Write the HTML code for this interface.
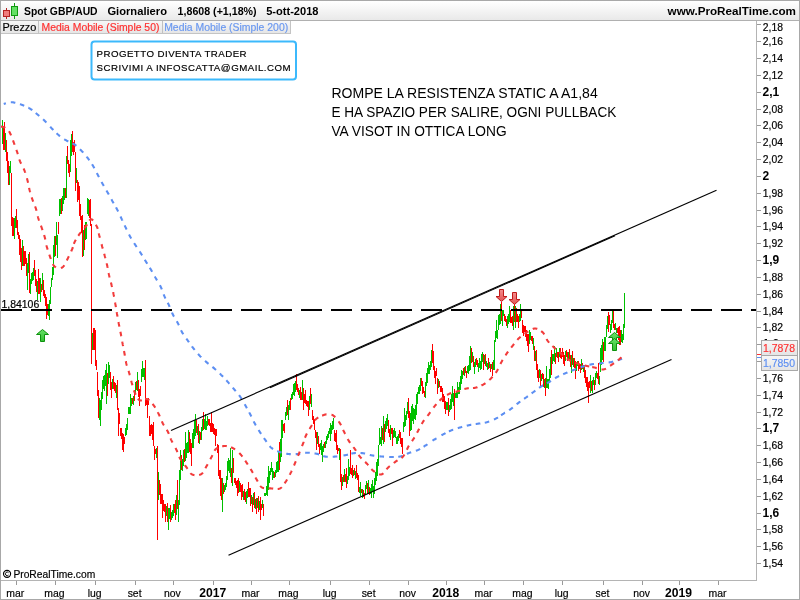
<!DOCTYPE html>
<html><head><meta charset="utf-8"><title>Spot GBP/AUD</title><style>html,body{margin:0;padding:0;background:#fff;overflow:hidden}svg{display:block;will-change:transform}text{font-family:"Liberation Sans",sans-serif}</style></head><body>
<svg width="800" height="600" viewBox="0 0 800 600" font-family="Liberation Sans, sans-serif">
<defs><linearGradient id="tb" x1="0" y1="0" x2="0" y2="1"><stop offset="0" stop-color="#ffffff"/><stop offset="1" stop-color="#e9e9e9"/></linearGradient><linearGradient id="lg" x1="0" y1="0" x2="0" y2="1"><stop offset="0" stop-color="#f7f7f7"/><stop offset="1" stop-color="#e4e4e4"/></linearGradient><linearGradient id="ga" x1="0" y1="0" x2="0" y2="1"><stop offset="0" stop-color="#66e066"/><stop offset="1" stop-color="#33c033"/></linearGradient><linearGradient id="ra" x1="0" y1="0" x2="0" y2="1"><stop offset="0" stop-color="#f58c8c"/><stop offset="1" stop-color="#e25454"/></linearGradient></defs>
<rect x="0" y="0" width="800" height="600" fill="#fff"/>
<path d="M2 120h1v24h-1zM5 133h1v19h-1zM9 166h1v19h-1zM10 161h1v12h-1zM14 218h1v21h-1zM15 216h1v12h-1zM22 240h1v26h-1zM27 263h1v27h-1zM28 254h1v19h-1zM30 279h1v15h-1zM31 273h1v11h-1zM32 272h1v9h-1zM33 268h1v12h-1zM37 281h1v19h-1zM40 278h1v24h-1zM42 273h1v17h-1zM48 304h1v12h-1zM49 300h1v20h-1zM50 287h1v17h-1zM51 278h1v9h-1zM52 267h1v13h-1zM53 245h1v30h-1zM54 236h1v21h-1zM56 222h1v23h-1zM57 235h1v23h-1zM59 199h1v17h-1zM60 199h1v15h-1zM62 196h1v15h-1zM63 188h1v16h-1zM64 188h1v12h-1zM66 156h1v42h-1zM70 140h1v32h-1zM71 134h1v22h-1zM76 168h1v15h-1zM83 230h1v26h-1zM85 222h1v18h-1zM86 222h1v17h-1zM87 198h1v16h-1zM88 199h1v17h-1zM92 333h1v17h-1zM99 398h1v22h-1zM100 400h1v26h-1zM101 392h1v18h-1zM102 380h1v19h-1zM103 376h1v13h-1zM104 375h1v16h-1zM105 370h1v16h-1zM106 364h1v40h-1zM108 362h1v22h-1zM109 365h1v13h-1zM112 379h1v10h-1zM116 385h1v13h-1zM125 428h1v8h-1zM126 424h1v11h-1zM127 418h1v12h-1zM128 407h1v7h-1zM129 407h1v7h-1zM130 394h1v20h-1zM131 398h1v8h-1zM133 396h1v9h-1zM135 382h1v12h-1zM137 372h1v19h-1zM141 369h1v13h-1zM142 361h1v16h-1zM143 368h1v9h-1zM144 368h1v12h-1zM156 448h1v10h-1zM158 472h1v28h-1zM166 506h1v10h-1zM168 508h1v22h-1zM169 508h1v11h-1zM171 512h1v8h-1zM172 510h1v8h-1zM173 504h1v12h-1zM176 495h1v20h-1zM178 500h1v22h-1zM179 470h1v35h-1zM180 450h1v30h-1zM182 459h1v12h-1zM183 450h1v16h-1zM185 432h1v29h-1zM186 443h1v15h-1zM187 442h1v11h-1zM188 430h1v23h-1zM192 433h1v15h-1zM193 429h1v19h-1zM194 420h1v19h-1zM195 414h1v22h-1zM197 426h1v9h-1zM199 431h1v13h-1zM201 427h1v13h-1zM202 419h1v12h-1zM204 419h1v10h-1zM205 414h1v16h-1zM206 421h1v9h-1zM207 416h1v10h-1zM222 478h1v34h-1zM224 485h1v7h-1zM225 483h1v7h-1zM226 476h1v11h-1zM227 461h1v19h-1zM228 458h1v13h-1zM229 460h1v13h-1zM230 448h1v29h-1zM232 450h1v36h-1zM239 481h1v11h-1zM243 491h1v9h-1zM246 491h1v13h-1zM247 489h1v9h-1zM251 495h1v9h-1zM253 493h1v12h-1zM255 499h1v10h-1zM257 498h1v10h-1zM259 501h1v9h-1zM262 500h1v8h-1zM264 493h1v3h-1zM265 493h1v3h-1zM266 486h1v9h-1zM267 477h1v19h-1zM268 466h1v24h-1zM269 471h1v12h-1zM270 468h1v7h-1zM271 462h1v10h-1zM272 468h1v12h-1zM273 471h1v7h-1zM275 470h1v7h-1zM276 462h1v11h-1zM277 461h1v11h-1zM278 452h1v20h-1zM280 439h1v23h-1zM281 420h1v37h-1zM282 420h1v18h-1zM285 412h1v8h-1zM286 407h1v9h-1zM288 405h1v15h-1zM289 401h1v9h-1zM291 394h1v6h-1zM292 392h1v7h-1zM293 384h1v11h-1zM294 383h1v13h-1zM295 381h1v11h-1zM299 390h1v8h-1zM302 380h1v20h-1zM309 396h1v14h-1zM311 394h1v13h-1zM317 432h1v12h-1zM320 443h1v7h-1zM321 440h1v15h-1zM322 446h1v16h-1zM323 444h1v8h-1zM325 441h1v7h-1zM326 436h1v8h-1zM327 434h1v6h-1zM328 431h1v7h-1zM329 428h1v6h-1zM330 423h1v18h-1zM331 425h1v9h-1zM332 421h1v9h-1zM333 418h1v11h-1zM339 448h1v12h-1zM342 477h1v9h-1zM344 469h1v13h-1zM347 476h1v8h-1zM348 459h1v21h-1zM349 467h1v9h-1zM353 470h1v6h-1zM355 471h1v8h-1zM359 487h1v6h-1zM360 482h1v14h-1zM362 489h1v9h-1zM365 485h1v10h-1zM366 481h1v8h-1zM368 480h1v14h-1zM370 488h1v6h-1zM371 484h1v14h-1zM372 480h1v11h-1zM373 486h1v12h-1zM374 478h1v16h-1zM375 472h1v13h-1zM376 462h1v19h-1zM377 459h1v17h-1zM378 445h1v21h-1zM379 428h1v17h-1zM380 437h1v7h-1zM381 426h1v20h-1zM383 416h1v28h-1zM385 421h1v11h-1zM386 418h1v11h-1zM387 414h1v12h-1zM390 425h1v15h-1zM393 430h1v8h-1zM394 428h1v9h-1zM395 431h1v7h-1zM396 437h1v7h-1zM397 436h1v8h-1zM398 434h1v7h-1zM403 422h1v10h-1zM404 408h1v19h-1zM405 415h1v11h-1zM406 411h1v9h-1zM407 402h1v12h-1zM410 413h1v18h-1zM411 406h1v24h-1zM412 404h1v17h-1zM413 408h1v16h-1zM414 409h1v10h-1zM415 405h1v15h-1zM416 394h1v21h-1zM417 392h1v12h-1zM418 387h1v7h-1zM419 385h1v9h-1zM420 378h1v13h-1zM425 382h1v16h-1zM426 373h1v13h-1zM427 368h1v15h-1zM428 362h1v12h-1zM429 365h1v9h-1zM430 361h1v9h-1zM431 350h1v17h-1zM438 379h1v9h-1zM446 402h1v8h-1zM447 402h1v8h-1zM449 405h1v7h-1zM450 399h1v11h-1zM451 394h1v15h-1zM452 386h1v16h-1zM453 393h1v13h-1zM455 393h1v5h-1zM456 392h1v6h-1zM457 382h1v16h-1zM458 387h1v7h-1zM459 382h1v12h-1zM460 376h1v14h-1zM461 370h1v14h-1zM462 371h1v8h-1zM464 367h1v9h-1zM467 366h1v7h-1zM468 365h1v9h-1zM469 356h1v15h-1zM470 346h1v24h-1zM472 352h1v10h-1zM474 362h1v12h-1zM475 359h1v8h-1zM478 363h1v9h-1zM479 358h1v10h-1zM480 361h1v9h-1zM481 354h1v15h-1zM482 352h1v10h-1zM484 355h1v9h-1zM486 361h1v6h-1zM487 363h1v7h-1zM489 362h1v6h-1zM491 364h1v5h-1zM493 360h1v10h-1zM494 340h1v30h-1zM495 331h1v11h-1zM496 320h1v18h-1zM497 330h1v9h-1zM498 315h1v15h-1zM499 314h1v11h-1zM500 304h1v20h-1zM502 310h1v16h-1zM503 310h1v6h-1zM507 316h1v12h-1zM508 314h1v10h-1zM509 306h1v16h-1zM513 306h1v24h-1zM515 306h1v22h-1zM519 314h1v8h-1zM520 304h1v17h-1zM529 330h1v14h-1zM530 332h1v8h-1zM533 338h1v12h-1zM535 351h1v10h-1zM539 369h1v9h-1zM541 374h1v7h-1zM544 379h1v9h-1zM546 366h1v22h-1zM547 379h1v9h-1zM548 379h1v10h-1zM549 369h1v14h-1zM550 357h1v21h-1zM552 354h1v10h-1zM553 354h1v7h-1zM554 346h1v16h-1zM556 348h1v9h-1zM559 348h1v9h-1zM565 351h1v10h-1zM568 352h1v7h-1zM571 355h1v18h-1zM573 358h1v9h-1zM576 362h1v9h-1zM577 361h1v5h-1zM581 359h1v11h-1zM583 365h1v7h-1zM590 375h1v18h-1zM592 380h1v13h-1zM593 377h1v8h-1zM595 373h1v12h-1zM596 371h1v7h-1zM599 376h1v9h-1zM600 348h1v24h-1zM601 345h1v20h-1zM602 339h1v21h-1zM604 337h1v14h-1zM605 337h1v14h-1zM606 325h1v12h-1zM607 316h1v13h-1zM610 324h1v9h-1zM611 320h1v10h-1zM612 311h1v12h-1zM615 323h1v7h-1zM616 328h1v5h-1zM621 330h1v12h-1zM622 334h1v9h-1zM623 324h1v16h-1zM624 293h1v35h-1z" fill="#00c000"/>
<path d="M3 126h1v24h-1zM4 122h1v28h-1zM6 140h1v21h-1zM7 152h1v21h-1zM8 161h1v24h-1zM11 173h1v53h-1zM12 217h1v19h-1zM13 218h1v18h-1zM16 209h1v19h-1zM17 220h1v15h-1zM18 232h1v7h-1zM19 235h1v20h-1zM20 239h1v23h-1zM21 248h1v22h-1zM23 246h1v20h-1zM24 251h1v15h-1zM25 251h1v13h-1zM26 258h1v18h-1zM29 252h1v41h-1zM34 260h1v16h-1zM35 270h1v16h-1zM36 279h1v13h-1zM38 269h1v25h-1zM39 278h1v16h-1zM41 284h1v8h-1zM43 280h1v16h-1zM44 290h1v8h-1zM45 294h1v12h-1zM46 297h1v22h-1zM47 304h1v11h-1zM55 236h1v20h-1zM58 222h1v12h-1zM61 198h1v16h-1zM65 188h1v10h-1zM67 146h1v18h-1zM68 160h1v13h-1zM69 164h1v13h-1zM72 131h1v21h-1zM73 142h1v13h-1zM74 140h1v12h-1zM75 152h1v39h-1zM77 180h1v22h-1zM78 182h1v18h-1zM79 186h1v30h-1zM80 204h1v16h-1zM81 216h1v17h-1zM82 215h1v42h-1zM84 225h1v25h-1zM89 200h1v18h-1zM90 199h1v27h-1zM91 224h1v140h-1zM93 328h1v22h-1zM94 328h1v22h-1zM95 330h1v36h-1zM96 360h1v10h-1zM97 372h1v24h-1zM98 390h1v28h-1zM107 373h1v23h-1zM110 372h1v18h-1zM111 382h1v16h-1zM113 376h1v13h-1zM114 382h1v9h-1zM115 383h1v10h-1zM117 380h1v30h-1zM118 408h1v28h-1zM119 413h1v11h-1zM120 428h1v8h-1zM121 428h1v11h-1zM122 433h1v17h-1zM123 434h1v18h-1zM124 437h1v7h-1zM132 398h1v6h-1zM134 390h1v11h-1zM136 381h1v9h-1zM138 380h1v17h-1zM139 389h1v17h-1zM140 386h1v10h-1zM145 360h1v46h-1zM146 398h1v7h-1zM147 400h1v18h-1zM148 398h1v7h-1zM149 416h1v20h-1zM150 425h1v11h-1zM151 424h1v10h-1zM152 425h1v15h-1zM153 422h1v24h-1zM154 446h1v14h-1zM155 449h1v5h-1zM157 446h1v94h-1zM159 480h1v15h-1zM160 484h1v20h-1zM161 494h1v10h-1zM162 494h1v24h-1zM163 500h1v11h-1zM164 504h1v8h-1zM165 504h1v18h-1zM167 503h1v19h-1zM170 505h1v17h-1zM174 504h1v9h-1zM175 500h1v20h-1zM177 480h1v29h-1zM181 455h1v15h-1zM184 449h1v13h-1zM189 432h1v20h-1zM190 439h1v15h-1zM191 443h1v23h-1zM196 420h1v13h-1zM198 424h1v19h-1zM200 432h1v8h-1zM203 412h1v18h-1zM208 419h1v6h-1zM209 419h1v7h-1zM210 423h1v9h-1zM211 412h1v20h-1zM212 423h1v9h-1zM213 424h1v10h-1zM214 428h1v7h-1zM215 429h1v17h-1zM216 429h1v7h-1zM217 444h1v9h-1zM218 445h1v31h-1zM219 470h1v9h-1zM220 470h1v26h-1zM221 478h1v22h-1zM223 483h1v11h-1zM231 468h1v15h-1zM233 458h1v15h-1zM234 478h1v5h-1zM235 478h1v7h-1zM236 481h1v7h-1zM237 480h1v16h-1zM238 478h1v15h-1zM240 483h1v9h-1zM241 485h1v15h-1zM242 484h1v13h-1zM244 489h1v11h-1zM245 492h1v10h-1zM248 482h1v15h-1zM249 488h1v9h-1zM250 488h1v18h-1zM252 497h1v15h-1zM254 492h1v16h-1zM256 498h1v16h-1zM258 496h1v16h-1zM260 497h1v23h-1zM261 504h1v6h-1zM263 504h1v12h-1zM274 472h1v6h-1zM279 442h1v28h-1zM283 424h1v7h-1zM284 423h1v10h-1zM287 400h1v15h-1zM290 398h1v12h-1zM296 374h1v16h-1zM297 384h1v8h-1zM298 388h1v7h-1zM300 387h1v13h-1zM301 392h1v8h-1zM303 388h1v22h-1zM304 394h1v9h-1zM305 390h1v14h-1zM306 400h1v6h-1zM307 401h1v6h-1zM308 401h1v15h-1zM310 388h1v16h-1zM312 410h1v10h-1zM313 416h1v8h-1zM314 419h1v11h-1zM315 430h1v8h-1zM316 432h1v18h-1zM318 436h1v11h-1zM319 444h1v10h-1zM324 442h1v6h-1zM334 430h1v11h-1zM335 433h1v9h-1zM336 430h1v20h-1zM337 445h1v9h-1zM338 448h1v3h-1zM340 449h1v33h-1zM341 474h1v16h-1zM343 475h1v7h-1zM345 474h1v8h-1zM346 468h1v20h-1zM350 450h1v24h-1zM351 468h1v7h-1zM352 465h1v13h-1zM354 468h1v7h-1zM356 465h1v13h-1zM357 473h1v7h-1zM358 475h1v17h-1zM361 489h1v4h-1zM363 490h1v7h-1zM364 493h1v6h-1zM367 483h1v11h-1zM369 487h1v8h-1zM382 428h1v12h-1zM384 424h1v18h-1zM388 420h1v13h-1zM389 429h1v8h-1zM391 428h1v6h-1zM392 428h1v18h-1zM399 430h1v8h-1zM400 432h1v12h-1zM401 438h1v9h-1zM402 438h1v16h-1zM408 398h1v20h-1zM409 411h1v25h-1zM421 378h1v8h-1zM422 381h1v13h-1zM423 387h1v6h-1zM424 391h1v6h-1zM432 344h1v19h-1zM433 351h1v19h-1zM434 366h1v12h-1zM435 371h1v13h-1zM436 368h1v8h-1zM437 378h1v16h-1zM439 381h1v6h-1zM440 386h1v6h-1zM441 386h1v6h-1zM442 388h1v14h-1zM443 394h1v8h-1zM444 396h1v13h-1zM445 401h1v13h-1zM448 398h1v18h-1zM454 389h1v31h-1zM463 368h1v7h-1zM465 366h1v7h-1zM466 371h1v7h-1zM471 348h1v15h-1zM473 356h1v11h-1zM476 358h1v7h-1zM477 360h1v7h-1zM483 354h1v16h-1zM485 354h1v12h-1zM488 358h1v11h-1zM490 364h1v8h-1zM492 362h1v14h-1zM501 302h1v19h-1zM504 314h1v7h-1zM505 316h1v6h-1zM506 319h1v7h-1zM510 310h1v13h-1zM511 317h1v6h-1zM512 316h1v10h-1zM514 304h1v18h-1zM516 308h1v14h-1zM517 314h1v8h-1zM518 316h1v12h-1zM521 310h1v8h-1zM522 320h1v13h-1zM523 325h1v11h-1zM524 326h1v6h-1zM525 326h1v11h-1zM526 330h1v11h-1zM527 334h1v12h-1zM528 334h1v18h-1zM531 336h1v5h-1zM532 336h1v8h-1zM534 346h1v15h-1zM536 350h1v20h-1zM537 364h1v14h-1zM538 370h1v12h-1zM540 370h1v16h-1zM542 373h1v6h-1zM543 374h1v13h-1zM545 378h1v18h-1zM551 350h1v25h-1zM555 353h1v11h-1zM557 352h1v6h-1zM558 352h1v10h-1zM560 348h1v10h-1zM561 352h1v7h-1zM562 348h1v9h-1zM563 352h1v12h-1zM564 355h1v11h-1zM566 350h1v7h-1zM567 352h1v9h-1zM569 349h1v10h-1zM570 355h1v12h-1zM572 351h1v14h-1zM574 358h1v10h-1zM575 361h1v18h-1zM578 361h1v10h-1zM579 364h1v5h-1zM580 364h1v9h-1zM582 363h1v6h-1zM584 365h1v13h-1zM585 370h1v13h-1zM586 377h1v10h-1zM587 377h1v14h-1zM588 382h1v21h-1zM589 381h1v7h-1zM591 381h1v10h-1zM594 380h1v10h-1zM597 373h1v6h-1zM598 363h1v21h-1zM603 342h1v20h-1zM608 312h1v20h-1zM609 315h1v10h-1zM613 311h1v17h-1zM614 324h1v6h-1zM617 328h1v5h-1zM618 327h1v13h-1zM619 326h1v19h-1zM620 330h1v15h-1z" fill="#ff0000"/>
<path d="M3.75 104.00 3.85 103.97 3.95 103.93 4.07 103.88 4.20 103.83 4.34 103.78 4.49 103.72 4.65 103.66 4.82 103.59 5.00 103.53 5.18 103.46 5.36 103.39 5.56 103.32 5.75 103.24 5.90 103.19M10.81 102.19 10.86 102.19 11.08 102.18 11.30 102.18 11.53 102.19 11.77 102.20 12.01 102.22 12.27 102.24 12.54 102.27 12.81 102.31 13.10 102.35 13.40 102.40 13.72 102.46 14.04 102.52 14.38 102.60 14.73 102.67 15.09 102.76 15.35 102.82M19.93 104.14 20.20 104.23 20.60 104.36 20.98 104.49 21.36 104.63 21.74 104.76 22.10 104.90 22.46 105.04 22.82 105.18 23.18 105.32 23.54 105.46 23.90 105.61 24.24 105.75M28.41 107.75 28.43 107.75 28.76 107.94 29.09 108.12 29.42 108.31 29.75 108.51 30.08 108.70 30.40 108.90 30.72 109.10 31.03 109.31 31.34 109.52 31.65 109.73 31.95 109.95 32.25 110.17 32.30 110.20M35.75 113.01 36.03 113.25 36.32 113.50 36.61 113.75 36.91 114.00 37.20 114.25 37.50 114.50 37.80 114.75 38.10 115.00 38.41 115.25 38.71 115.51 39.01 115.76 39.27 115.97M43.13 119.32 43.30 119.48 43.60 119.76 43.90 120.04 44.20 120.33 44.50 120.61 44.80 120.90 45.10 121.19 45.39 121.49 45.69 121.79 45.98 122.10 46.28 122.41 46.41 122.55M50.18 126.72 50.34 126.89 50.62 127.20 50.91 127.51 51.19 127.81 51.47 128.11 51.75 128.40 52.03 128.69 52.30 128.97 52.57 129.26 52.84 129.54 53.11 129.82 53.34 130.06M56.53 133.28 56.53 133.28 56.81 133.54 57.09 133.79 57.37 134.05 57.66 134.30 57.95 134.55 58.25 134.80 58.55 135.05 58.86 135.30 59.18 135.55 59.49 135.80 59.81 136.04 60.05 136.23M64.30 139.19 64.54 139.35 64.88 139.56 65.23 139.78 65.57 139.99 65.91 140.20 66.25 140.40 66.59 140.60 66.93 140.79 67.28 140.97 67.62 141.14 67.97 141.31 68.29 141.46M72.51 143.35 72.51 143.35 72.85 143.52 73.19 143.70 73.52 143.89 73.85 144.08 74.18 144.29 74.50 144.50 74.82 144.72 75.13 144.95 75.45 145.18 75.76 145.42 76.07 145.66 76.34 145.88M79.99 149.26 80.19 149.46 80.47 149.74 80.75 150.03 81.04 150.32 81.32 150.61 81.60 150.90 81.88 151.19 82.16 151.49 82.44 151.78 82.72 152.08 83.00 152.38 83.17 152.58M86.59 156.59 86.75 156.80 87.01 157.12 87.26 157.44 87.51 157.76 87.76 158.08 88.00 158.40 88.24 158.71 88.47 159.02 88.69 159.32 88.91 159.61 89.13 159.89 89.33 160.18 89.38 160.24M92.08 164.27 92.24 164.54 92.48 164.94 92.73 165.35 92.98 165.79 93.25 166.25 93.53 166.73 93.81 167.24 94.10 167.78 94.36 168.26M96.86 173.05 96.98 173.30 97.32 173.96 97.66 174.63 98.00 175.29 98.34 175.96 98.68 176.62 98.95 177.14M101.50 181.91 101.64 182.16 101.97 182.75 102.30 183.33 102.64 183.92 102.97 184.51 103.31 185.09 103.65 185.67 103.78 185.90M106.51 190.56 106.58 190.68 106.88 191.19 107.17 191.69 107.46 192.18 107.73 192.66 108.00 193.12 108.25 193.57 108.50 194.00 108.73 194.41 108.81 194.54M111.39 199.28 111.39 199.28 111.54 199.55 111.69 199.82 111.84 200.10 112.00 200.39 112.16 200.68 112.32 200.99 112.50 201.30 112.68 201.62 112.86 201.94 113.05 202.27 113.23 202.59 113.42 202.92 113.61 203.24 113.64 203.30M116.01 207.38 116.14 207.63 116.34 207.98 116.53 208.33 116.72 208.68 116.91 209.04 117.10 209.40 117.29 209.76 117.47 210.13 117.66 210.50 117.85 210.87 118.03 211.25 118.13 211.45M120.52 216.52 120.60 216.69 120.78 217.07 120.96 217.46 121.14 217.84 121.32 218.22 121.50 218.60 121.68 218.98 121.85 219.35 122.03 219.72 122.20 220.09 122.38 220.46 122.48 220.68M124.66 225.37 124.77 225.60 124.94 225.97 125.12 226.34 125.29 226.71 125.47 227.08 125.65 227.45 125.83 227.82 126.01 228.20 126.19 228.57 126.36 228.95 126.54 229.33 126.64 229.53M129.02 234.47 129.11 234.64 129.31 235.02 129.50 235.39 129.70 235.76 129.90 236.13 130.10 236.50 130.30 236.87 130.51 237.23 130.72 237.60 130.93 237.96 131.15 238.33 131.25 238.49M134.16 243.16 134.27 243.34 134.50 243.69 134.72 244.04 134.95 244.40 135.17 244.75 135.40 245.10 135.63 245.45 135.85 245.80 136.08 246.15 136.31 246.50 136.54 246.85 136.66 247.03M139.64 251.47 139.78 251.67 140.00 252.02 140.23 252.36 140.46 252.71 140.68 253.05 140.90 253.40 141.12 253.75 141.34 254.10 141.56 254.44 141.77 254.79 141.99 255.14 142.12 255.35M144.80 259.79 144.95 260.03 145.16 260.38 145.37 260.72 145.58 261.07 145.79 261.41 146.00 261.75 146.21 262.09 146.42 262.43 146.63 262.76 146.84 263.10 147.05 263.43 147.22 263.70M149.80 267.79 149.97 268.05 150.17 268.38 150.38 268.72 150.59 269.06 150.79 269.40 151.00 269.75 151.21 270.10 151.41 270.45 151.62 270.80 151.82 271.15 152.03 271.51 152.16 271.74M154.77 276.40 154.87 276.58 155.08 276.94 155.28 277.31 155.49 277.67 155.69 278.04 155.90 278.40 156.11 278.76 156.32 279.13 156.53 279.49 156.74 279.85 156.96 280.22 157.06 280.39M159.85 285.15 159.95 285.34 160.15 285.71 160.34 286.08 160.53 286.45 160.72 286.83 160.90 287.20 161.08 287.58 161.25 287.96 161.41 288.34 161.57 288.72 161.73 289.10 161.81 289.31M163.63 294.27 163.73 294.53 163.88 294.91 164.03 295.29 164.18 295.66 164.34 296.03 164.50 296.40 164.66 296.76 164.83 297.12 165.00 297.48 165.17 297.83 165.34 298.18 165.49 298.47M167.74 302.73 167.86 302.97 168.04 303.33 168.22 303.69 168.40 304.05 168.57 304.42 168.75 304.80 168.92 305.18 169.10 305.57 169.27 305.97 169.44 306.37 169.61 306.77 169.66 306.91M171.94 312.51 171.98 312.61 172.16 313.02 172.34 313.42 172.52 313.82 172.71 314.21 172.90 314.60 173.09 314.98 173.29 315.36 173.49 315.73 173.69 316.10 173.90 316.47 173.99 316.63M176.78 321.24 176.90 321.44 177.10 321.80 177.31 322.16 177.51 322.52 177.71 322.88 177.90 323.25 178.09 323.62 178.27 323.99 178.45 324.37 178.63 324.75 178.80 325.13 178.89 325.32M181.05 330.25 181.15 330.47 181.33 330.84 181.52 331.21 181.71 331.58 181.90 331.94 182.10 332.30 182.31 332.66 182.52 333.01 182.73 333.36 182.95 333.71 183.17 334.06 183.30 334.26M186.31 338.53 186.47 338.75 186.71 339.08 186.94 339.41 187.18 339.74 187.42 340.07 187.65 340.40 187.88 340.73 188.11 341.06 188.34 341.38 188.57 341.71 188.80 342.03 188.97 342.28M191.85 346.27 192.03 346.52 192.27 346.83 192.51 347.15 192.76 347.47 193.00 347.78 193.25 348.10 193.50 348.42 193.75 348.73 194.00 349.05 194.26 349.37 194.51 349.69 194.68 349.90M198.05 353.90 198.21 354.09 198.49 354.39 198.76 354.70 199.04 355.00 199.32 355.30 199.60 355.60 199.88 355.90 200.17 356.19 200.45 356.49 200.74 356.78 201.03 357.08 201.20 357.25M205.03 360.87 205.22 361.05 205.53 361.32 205.83 361.59 206.14 361.86 206.44 362.13 206.75 362.40 207.06 362.66 207.36 362.93 207.67 363.18 207.98 363.44 208.29 363.69 208.52 363.87M212.48 366.93 212.70 367.11 213.01 367.36 213.32 367.62 213.63 367.87 213.94 368.14 214.25 368.40 214.56 368.67 214.86 368.94 215.17 369.21 215.48 369.49 215.78 369.76 215.97 369.93M219.81 373.58 220.00 373.77 220.30 374.06 220.59 374.34 220.88 374.63 221.16 374.92 221.45 375.20 221.73 375.48 222.01 375.76 222.29 376.05 222.57 376.33 222.84 376.61 223.07 376.83M226.35 380.30 226.58 380.54 226.84 380.83 227.10 381.12 227.37 381.41 227.63 381.71 227.90 382.00 228.17 382.30 228.43 382.60 228.70 382.89 228.97 383.20 229.23 383.50 229.43 383.72M232.77 387.64 232.94 387.83 233.20 388.15 233.47 388.46 233.73 388.77 233.99 389.09 234.25 389.40 234.51 389.71 234.77 390.02 235.03 390.33 235.30 390.64 235.56 390.94 235.74 391.15M239.04 395.14 239.17 395.31 239.42 395.64 239.67 395.97 239.91 396.31 240.16 396.65 240.40 397.00 240.64 397.35 240.88 397.71 241.12 398.08 241.35 398.45 241.59 398.83 241.65 398.93M244.68 404.19 244.75 404.32 244.96 404.71 245.17 405.09 245.38 405.46 245.59 405.83 245.80 406.20 246.00 406.56 246.21 406.92 246.41 407.27 246.60 407.62 246.80 407.96 246.93 408.20M249.23 412.37 249.38 412.66 249.56 413.00 249.75 413.34 249.93 413.69 250.11 414.04 250.30 414.40 250.49 414.76 250.67 415.12 250.85 415.49 251.04 415.86 251.22 416.23 251.33 416.46M253.69 421.36 253.78 421.54 253.97 421.91 254.16 422.29 254.36 422.66 254.55 423.03 254.75 423.40 254.95 423.77 255.15 424.13 255.35 424.50 255.56 424.86 255.76 425.23 255.87 425.41M258.63 430.05 258.76 430.26 258.98 430.61 259.19 430.96 259.41 431.31 259.63 431.66 259.85 432.00 260.07 432.34 260.29 432.68 260.51 433.02 260.73 433.36 260.95 433.69 261.10 433.93M263.91 438.03 264.08 438.27 264.31 438.60 264.54 438.92 264.78 439.25 265.01 439.57 265.25 439.90 265.49 440.23 265.72 440.56 265.96 440.90 266.19 441.25 266.42 441.59 266.56 441.79M269.64 446.06 269.85 446.31 270.12 446.61 270.39 446.90 270.67 447.18 270.96 447.44 271.25 447.70 271.55 447.95 271.85 448.18 272.16 448.41 272.47 448.63 272.79 448.85 273.11 449.05M277.25 451.08 277.60 451.22 277.96 451.36 278.32 451.50 278.68 451.63 279.04 451.77 279.40 451.90 279.76 452.03 280.12 452.16 280.49 452.28 280.86 452.40 281.23 452.51 281.58 452.62M286.22 453.68 286.56 453.74 286.95 453.80 287.34 453.85 287.72 453.91 288.11 453.95 288.50 454.00 288.89 454.04 289.28 454.08 289.67 454.11 290.06 454.14 290.45 454.16 290.79 454.18M295.70 454.14 296.01 454.12 296.41 454.10 296.81 454.08 297.21 454.05 297.60 454.03 298.00 454.00 298.40 453.97 298.79 453.93 299.19 453.88 299.59 453.83 299.98 453.77 300.28 453.73M305.21 452.88 305.53 452.84 305.93 452.79 306.32 452.76 306.72 452.73 307.11 452.71 307.50 452.70 307.89 452.70 308.28 452.70 308.68 452.71 309.07 452.72 309.46 452.74 309.80 452.76M314.54 453.35 314.91 453.42 315.29 453.49 315.67 453.56 316.05 453.64 316.42 453.72 316.80 453.80 317.17 453.89 317.54 453.98 317.91 454.09 318.28 454.20 318.64 454.32 319.00 454.45 319.01 454.45M323.27 456.05 323.28 456.06 323.65 456.17 324.01 456.28 324.38 456.37 324.75 456.46 325.12 456.54 325.50 456.60 325.88 456.65 326.26 456.70 326.64 456.74 327.02 456.78 327.41 456.81 327.79 456.83M332.71 456.76 332.93 456.75 333.34 456.72 333.75 456.69 334.16 456.66 334.58 456.63 335.00 456.60 335.43 456.57 335.86 456.53 336.30 456.49 336.75 456.44 337.21 456.39 337.29 456.38M343.48 455.50 343.68 455.46 344.11 455.39 344.54 455.32 344.95 455.24 345.36 455.17 345.75 455.10 346.13 455.03 346.50 454.95 346.86 454.87 347.21 454.78 347.55 454.70 347.88 454.61 347.99 454.58M351.34 453.62 351.61 453.55 351.93 453.48 352.25 453.41 352.57 453.35 352.91 453.29 353.25 453.24 353.60 453.20 353.96 453.16 354.32 453.13 354.69 453.09 355.06 453.06 355.43 453.04 355.81 453.01 355.89 453.01M360.51 453.00 360.86 453.02 361.25 453.05 361.64 453.08 362.03 453.12 362.42 453.16 362.80 453.20 363.18 453.25 363.56 453.31 363.95 453.38 364.33 453.45 364.71 453.53 365.06 453.62M369.76 454.90 370.05 454.98 370.43 455.07 370.82 455.16 371.21 455.25 371.61 455.33 372.00 455.40 372.40 455.47 372.79 455.53 373.19 455.59 373.59 455.65 374.00 455.71 374.27 455.75M379.46 456.31 379.71 456.33 380.12 456.36 380.53 456.40 380.94 456.43 381.34 456.47 381.75 456.50 382.16 456.53 382.56 456.57 382.97 456.60 383.38 456.63 383.79 456.66 384.04 456.68M389.20 456.97 389.52 456.98 389.92 456.99 390.32 456.99 390.71 457.00 391.11 457.00 391.50 457.00 391.89 457.00 392.28 457.00 392.66 457.00 393.05 457.00 393.43 456.99 393.80 456.99M398.23 456.78 398.30 456.77 398.67 456.73 399.04 456.67 399.40 456.62 399.77 456.55 400.14 456.48 400.50 456.40 400.86 456.31 401.22 456.21 401.58 456.11 401.94 455.99 402.29 455.87 402.65 455.74 402.70 455.72M406.87 453.88 407.21 453.73 407.56 453.58 407.92 453.43 408.28 453.28 408.64 453.14 409.00 453.00 409.37 452.87 409.74 452.74 410.11 452.62 410.49 452.49 410.87 452.37 411.18 452.28M415.86 450.84 416.21 450.72 416.58 450.58 416.94 450.44 417.30 450.30 417.65 450.15 418.00 450.00 418.34 449.84 418.67 449.68 419.00 449.52 419.32 449.35 419.63 449.19 419.95 449.02 420.05 448.96M423.57 446.75 423.87 446.56 424.18 446.35 424.50 446.14 424.83 445.93 425.16 445.72 425.50 445.50 425.85 445.28 426.20 445.05 426.55 444.82 426.91 444.58 427.28 444.34 427.42 444.24M432.57 440.75 432.60 440.73 432.98 440.48 433.36 440.23 433.75 439.98 434.12 439.74 434.50 439.50 434.88 439.26 435.25 439.03 435.64 438.79 436.02 438.56 436.40 438.32 436.46 438.29M441.49 435.32 441.72 435.19 442.09 434.98 442.45 434.78 442.80 434.58 443.15 434.39 443.50 434.20 443.84 434.01 444.17 433.83 444.50 433.66 444.82 433.48 445.13 433.31 445.45 433.15 445.52 433.10M448.89 431.41 449.05 431.34 449.37 431.20 449.68 431.06 450.00 430.92 450.33 430.78 450.66 430.64 451.00 430.50 451.35 430.36 451.70 430.22 452.05 430.09 452.41 429.95 452.78 429.82 453.14 429.68 453.15 429.68M457.80 428.16 458.10 428.07 458.48 427.95 458.86 427.84 459.25 427.72 459.62 427.61 460.00 427.50 460.38 427.39 460.75 427.28 461.12 427.17 461.50 427.07 461.87 426.96 462.21 426.87M466.76 425.70 467.12 425.61 467.50 425.53 467.88 425.44 468.25 425.36 468.63 425.28 469.00 425.20 469.38 425.12 469.75 425.05 470.12 424.97 470.50 424.90 470.88 424.84 471.25 424.77 471.26 424.77M475.73 424.06 475.75 424.06 476.12 424.00 476.50 423.94 476.88 423.88 477.25 423.82 477.63 423.76 478.00 423.70 478.38 423.64 478.75 423.58 479.12 423.53 479.50 423.48 479.87 423.43 480.25 423.38 480.28 423.37M484.76 422.73 485.12 422.66 485.50 422.58 485.88 422.49 486.25 422.40 486.63 422.30 487.00 422.20 487.38 422.09 487.76 421.97 488.14 421.85 488.52 421.72 488.91 421.59 489.19 421.49M493.93 419.51 494.26 419.36 494.62 419.19 494.97 419.02 495.32 418.84 495.66 418.67 496.00 418.50 496.33 418.33 496.65 418.16 496.96 417.98 497.27 417.80 497.57 417.63 497.87 417.45 498.00 417.36M501.09 415.28 501.23 415.19 501.51 414.99 501.80 414.80 502.09 414.60 502.39 414.40 502.69 414.20 503.00 414.00 503.31 413.80 503.63 413.60 503.96 413.39 504.28 413.19 504.61 412.98 504.94 412.78 504.95 412.78M509.10 410.15 509.35 409.99 509.69 409.77 510.02 409.54 510.35 409.31 510.68 409.08 511.00 408.85 511.32 408.62 511.64 408.38 511.96 408.14 512.27 407.89 512.59 407.64 512.83 407.45M516.65 404.28 516.90 404.07 517.21 403.82 517.52 403.57 517.83 403.33 518.14 403.09 518.45 402.85 518.76 402.61 519.08 402.38 519.39 402.15 519.70 401.92 520.02 401.70 520.30 401.49M524.12 398.83 524.43 398.61 524.74 398.39 525.06 398.17 525.37 397.95 525.69 397.73 526.00 397.50 526.31 397.27 526.63 397.05 526.94 396.82 527.25 396.59 527.57 396.36 527.86 396.15M531.64 393.36 531.94 393.14 532.25 392.91 532.56 392.68 532.88 392.46 533.19 392.23 533.50 392.00 533.81 391.77 534.12 391.54 534.43 391.31 534.74 391.08 535.05 390.85 535.35 390.63M539.09 387.88 539.40 387.66 539.72 387.45 540.04 387.23 540.36 387.02 540.68 386.81 541.00 386.60 541.32 386.40 541.65 386.20 541.98 386.00 542.30 385.80 542.63 385.61 542.96 385.42 542.97 385.42M547.00 383.23 547.32 383.05 547.66 382.87 548.00 382.68 548.33 382.49 548.67 382.30 549.00 382.10 549.33 381.90 549.67 381.70 550.00 381.49 550.33 381.28 550.66 381.07 550.95 380.88M555.01 378.26 555.31 378.07 555.65 377.87 555.99 377.67 556.32 377.48 556.66 377.29 557.00 377.10 557.34 376.92 557.68 376.74 558.02 376.56 558.36 376.39 558.71 376.22 559.05 376.06M563.19 374.20 563.21 374.19 563.56 374.04 563.91 373.90 564.26 373.75 564.60 373.60 564.95 373.45 565.30 373.30 565.65 373.15 565.99 373.00 566.34 372.86 566.69 372.71 567.03 372.56 567.38 372.42 567.42 372.40M571.56 370.73 571.91 370.59 572.26 370.46 572.62 370.32 572.98 370.18 573.34 370.04 573.70 369.90 574.06 369.76 574.43 369.62 574.80 369.48 575.17 369.33 575.54 369.19 575.84 369.07M580.52 367.32 580.81 367.22 581.19 367.09 581.57 366.96 581.95 366.84 582.32 366.72 582.70 366.60 583.07 366.48 583.45 366.37 583.82 366.26 584.19 366.14 584.56 366.03 584.90 365.94M589.45 364.76 589.79 364.68 590.17 364.60 590.55 364.52 590.93 364.45 591.31 364.37 591.70 364.30 592.09 364.23 592.48 364.17 592.87 364.11 593.27 364.05 593.66 363.99 593.97 363.95M599.01 363.43 599.29 363.41 599.69 363.37 600.10 363.33 600.50 363.29 600.90 363.24 601.30 363.20 601.70 363.16 602.10 363.11 602.50 363.07 602.91 363.03 603.31 363.00 603.59 362.97M608.63 362.47 608.94 362.43 609.33 362.37 609.73 362.31 610.12 362.24 610.51 362.17 610.90 362.10 611.29 362.02 611.69 361.93 612.09 361.84 612.49 361.74 612.90 361.64 613.14 361.57M617.71 360.20 618.01 360.11 618.36 360.00 618.69 359.89 619.01 359.78 619.32 359.68 619.62 359.59 619.90 359.50 620.17 359.42 620.43 359.33 620.67 359.25 620.91 359.17 621.14 359.09 621.37 359.01 621.58 358.94 621.78 358.86 621.98 358.79 622.08 358.75" fill="none" stroke="#5d8ff2" stroke-width="2.1"/>
<path d="M0.95 126.57 1.04 126.58 1.17 126.59 1.31 126.60 1.45 126.61 1.60 126.63 1.74 126.64 1.89 126.66 2.03 126.68 2.18 126.71 2.32 126.73 2.47 126.76 2.60 126.79 2.74 126.82 2.87 126.86 3.00 126.90 3.12 126.94 3.25 126.98 3.37 127.02 3.49 127.06 3.61 127.10 3.72 127.14 3.84 127.18 3.96 127.23 4.08 127.27 4.19 127.32 4.31 127.37 4.43 127.43 4.55 127.49 4.67 127.55 4.79 127.62 4.92 127.69 5.04 127.77 5.17 127.85 5.29 127.93M8.99 131.24 9.04 131.32 9.24 131.63 9.45 131.98 9.66 132.37 9.87 132.79 10.10 133.25 10.34 133.76 10.59 134.33 10.86 134.95 11.02 135.36M12.99 140.41 13.30 141.24 13.62 142.12 13.94 143.00 14.26 143.89 14.56 144.73M16.38 149.85 16.55 150.33 16.78 150.99 17.00 151.60 17.20 152.17 17.38 152.71 17.55 153.22 17.71 153.71 17.85 154.17 17.86 154.20M19.36 159.41 19.46 159.71 19.58 160.07 19.71 160.43 19.85 160.81 20.00 161.20 20.16 161.60 20.33 161.99 20.50 162.38 20.68 162.77 20.87 163.16 21.05 163.55 21.11 163.66M23.57 168.49 23.63 168.62 23.82 169.01 24.00 169.41 24.17 169.80 24.34 170.20 24.50 170.60 24.65 171.00 24.81 171.40 24.95 171.81 25.10 172.21 25.24 172.62 25.29 172.76M26.91 178.18 26.96 178.36 27.07 178.77 27.18 179.18 27.29 179.59 27.39 179.99 27.50 180.40 27.60 180.81 27.70 181.21 27.80 181.62 27.89 182.03 27.98 182.43 28.03 182.64M29.08 187.86 29.13 188.10 29.22 188.50 29.31 188.90 29.40 189.30 29.50 189.70 29.60 190.10 29.70 190.50 29.81 190.89 29.91 191.29 30.02 191.69 30.13 192.08 30.19 192.32M31.68 197.32 31.76 197.57 31.88 197.95 32.01 198.34 32.14 198.73 32.27 199.11 32.40 199.50 32.53 199.88 32.67 200.27 32.81 200.65 32.95 201.02 33.10 201.40 33.20 201.66M35.14 206.43 35.22 206.66 35.37 207.04 35.51 207.43 35.64 207.81 35.77 208.21 35.90 208.60 36.02 209.00 36.14 209.40 36.25 209.80 36.36 210.21 36.47 210.62 36.52 210.81M37.80 216.28 37.84 216.46 37.95 216.87 38.05 217.28 38.17 217.69 38.28 218.10 38.40 218.50 38.52 218.90 38.65 219.30 38.78 219.70 38.91 220.10 39.05 220.49 39.12 220.69M40.98 225.73 41.06 225.95 41.20 226.34 41.34 226.73 41.48 227.12 41.62 227.51 41.75 227.90 41.88 228.29 42.01 228.68 42.15 229.07 42.28 229.45 42.41 229.84 42.49 230.08M44.12 235.04 44.18 235.25 44.30 235.65 44.41 236.04 44.53 236.44 44.64 236.85 44.75 237.25 44.86 237.65 44.96 238.05 45.05 238.45 45.14 238.84 45.22 239.24 45.27 239.49M46.41 245.18 46.47 245.44 46.59 245.91 46.72 246.40 46.85 246.89 47.00 247.40 47.16 247.93 47.33 248.49 47.51 249.08 47.67 249.60M49.34 254.72 49.45 255.03 49.69 255.71 49.92 256.39 50.15 257.05 50.38 257.69 50.61 258.32 50.83 258.93 50.87 259.06M52.91 264.04 52.99 264.21 53.11 264.44 53.23 264.65 53.34 264.85 53.45 265.03 53.56 265.20 53.67 265.36 53.78 265.51 53.89 265.65 54.00 265.79 54.11 265.91 54.23 266.04 54.34 266.16 54.47 266.29 54.59 266.41 54.72 266.54 54.86 266.67 55.00 266.80 55.15 266.94 55.30 267.07 55.45 267.19 55.61 267.32 55.77 267.43 55.86 267.50M60.94 268.17 61.06 268.11 61.23 268.03 61.40 267.94 61.57 267.85 61.74 267.76 61.91 267.65 62.07 267.55 62.23 267.43 62.39 267.32 62.55 267.19 62.70 267.07 62.85 266.94 63.00 266.80 63.14 266.66 63.28 266.53 63.40 266.40 63.52 266.27 63.64 266.13 63.75 266.00 63.85 265.86 63.96 265.71 64.06 265.57 64.16 265.41 64.27 265.25 64.32 265.16M66.82 260.39 66.88 260.28 67.13 259.78 67.39 259.26 67.66 258.72 67.93 258.16 68.21 257.59 68.50 257.01 68.78 256.42 68.86 256.26M71.16 251.40 71.25 251.21 71.48 250.70 71.70 250.20 71.91 249.74 72.10 249.30 72.27 248.89 72.43 248.49 72.58 248.11 72.72 247.75 72.84 247.40 72.92 247.15M73.90 243.88 73.92 243.82 74.01 243.54 74.11 243.25 74.22 242.97 74.34 242.67 74.46 242.37 74.60 242.07 74.75 241.75 74.91 241.43 75.07 241.11 75.24 240.78 75.41 240.46 75.59 240.13 75.77 239.80 75.82 239.72M78.28 235.78 78.46 235.53 78.68 235.20 78.91 234.87 79.14 234.55 79.37 234.22 79.60 233.90 79.84 233.58 80.08 233.25 80.32 232.93 80.58 232.61 80.84 232.28 81.00 232.08M84.43 228.02 84.63 227.79 84.89 227.48 85.15 227.17 85.41 226.86 85.66 226.56 85.90 226.25 86.14 225.94 86.38 225.60 86.61 225.25 86.84 224.89 87.06 224.51 87.17 224.33M89.40 220.59 89.44 220.53 89.66 220.26 89.87 220.01 90.09 219.80 90.31 219.62 90.53 219.48 90.75 219.37 90.97 219.31 91.20 219.30 91.43 219.33 91.67 219.41 91.92 219.53 92.17 219.69 92.42 219.88 92.67 220.11 92.93 220.36 93.08 220.53M95.84 224.66 95.92 224.81 96.14 225.21 96.34 225.61 96.54 225.99 96.73 226.35 96.90 226.70 97.06 227.04 97.21 227.38 97.36 227.73 97.49 228.07 97.61 228.42 97.72 228.78 97.74 228.84M98.78 233.36 98.83 233.60 98.92 233.99 99.00 234.39 99.10 234.79 99.20 235.19 99.30 235.60 99.41 236.01 99.52 236.44 99.63 236.87 99.74 237.30 99.86 237.75 99.88 237.83M101.51 244.18 101.52 244.20 101.63 244.65 101.75 245.09 101.87 245.54 101.98 245.97 102.10 246.40 102.21 246.82 102.33 247.24 102.44 247.66 102.56 248.07 102.67 248.48 102.71 248.62M104.19 253.78 104.26 254.02 104.37 254.41 104.48 254.81 104.59 255.20 104.69 255.60 104.80 256.00 104.91 256.40 105.01 256.80 105.12 257.20 105.22 257.60 105.33 258.00 105.39 258.22M106.68 263.36 106.74 263.60 106.83 264.00 106.93 264.40 107.02 264.80 107.11 265.20 107.20 265.60 107.29 266.00 107.37 266.40 107.46 266.80 107.54 267.20 107.62 267.60 107.67 267.85M108.63 272.95 108.68 273.20 108.76 273.60 108.84 274.00 108.93 274.40 109.01 274.80 109.10 275.20 109.19 275.60 109.28 276.00 109.38 276.40 109.47 276.80 109.57 277.20 109.63 277.44M110.95 282.57 111.01 282.80 111.11 283.20 111.21 283.60 111.31 284.00 111.41 284.40 111.50 284.80 111.59 285.20 111.69 285.60 111.78 285.99 111.87 286.39 111.96 286.79 112.02 287.04M113.14 292.15 113.18 292.35 113.27 292.75 113.35 293.16 113.43 293.57 113.52 293.98 113.60 294.40 113.68 294.82 113.77 295.24 113.85 295.67 113.93 296.10 114.01 296.53 114.04 296.66M115.10 302.53 115.13 302.67 115.20 303.10 115.28 303.53 115.35 303.96 115.43 304.38 115.50 304.80 115.57 305.22 115.64 305.63 115.71 306.04 115.78 306.44 115.85 306.85 115.89 307.07M116.72 312.13 116.76 312.39 116.83 312.79 116.89 313.19 116.96 313.59 117.03 313.99 117.10 314.40 117.17 314.81 117.24 315.22 117.31 315.62 117.39 316.03 117.46 316.45 117.50 316.67M118.47 322.04 118.51 322.25 118.59 322.66 118.67 323.07 118.74 323.48 118.82 323.89 118.90 324.30 118.98 324.71 119.06 325.11 119.14 325.52 119.22 325.93 119.30 326.33 119.34 326.56M120.40 331.74 120.45 331.97 120.53 332.38 120.61 332.78 120.69 333.19 120.77 333.59 120.85 334.00 120.93 334.41 121.01 334.82 121.08 335.23 121.16 335.64 121.23 336.05 121.27 336.26M122.24 341.59 122.28 341.82 122.35 342.23 122.43 342.64 122.50 343.04 122.58 343.45 122.65 343.85 122.72 344.25 122.80 344.65 122.87 345.05 122.95 345.44 123.02 345.83 123.08 346.11M124.02 351.04 124.07 351.29 124.15 351.69 124.22 352.09 124.30 352.49 124.37 352.89 124.45 353.30 124.53 353.71 124.60 354.13 124.67 354.54 124.74 354.96 124.81 355.39 124.84 355.57M125.81 361.25 125.85 361.41 125.93 361.83 126.02 362.25 126.11 362.67 126.20 363.09 126.30 363.50 126.40 363.91 126.51 364.31 126.61 364.72 126.73 365.12 126.84 365.52 126.90 365.72M128.53 370.80 128.60 371.00 128.72 371.40 128.84 371.79 128.97 372.19 129.08 372.60 129.20 373.00 129.31 373.41 129.43 373.82 129.54 374.23 129.65 374.64 129.75 375.06 129.80 375.22M131.20 380.78 131.24 380.93 131.35 381.35 131.46 381.77 131.57 382.18 131.68 382.59 131.80 383.00 131.92 383.41 132.03 383.82 132.14 384.23 132.26 384.65 132.37 385.06 132.41 385.22M133.95 390.46 134.05 390.74 134.19 391.12 134.34 391.50 134.49 391.87 134.64 392.24 134.80 392.60 134.96 392.96 135.13 393.33 135.29 393.70 135.46 394.08 135.63 394.46 135.74 394.70M137.92 398.66 137.93 398.67 138.15 398.95 138.37 399.21 138.61 399.45 138.84 399.68 139.09 399.87 139.34 400.05 139.60 400.20 139.87 400.32 140.15 400.39 140.44 400.43 140.74 400.44 141.05 400.42 141.37 400.38 141.69 400.31 141.85 400.27M145.14 399.19 145.46 399.12 145.80 399.06 146.13 399.03 146.46 399.02 146.78 399.04 147.10 399.10 147.40 399.20 147.70 399.33 148.00 399.48 148.29 399.65 148.59 399.84 148.88 400.05 149.18 400.27 149.34 400.41M152.60 403.97 152.76 404.18 153.02 404.51 153.27 404.84 153.52 405.16 153.76 405.48 154.00 405.80 154.24 406.11 154.47 406.43 154.69 406.76 154.91 407.09 155.13 407.42 155.31 407.69M157.77 412.14 157.88 412.37 158.07 412.73 158.25 413.10 158.43 413.47 158.62 413.83 158.80 414.20 158.98 414.57 159.16 414.94 159.33 415.32 159.50 415.70 159.67 416.08 159.76 416.29M161.82 421.32 161.91 421.52 162.08 421.90 162.25 422.28 162.43 422.66 162.61 423.03 162.80 423.40 162.99 423.77 163.19 424.13 163.40 424.49 163.60 424.84 163.82 425.20 163.94 425.40M166.77 429.80 166.92 430.04 167.12 430.39 167.33 430.74 167.52 431.09 167.72 431.44 167.90 431.80 168.08 432.16 168.25 432.51 168.41 432.87 168.57 433.22 168.72 433.58 168.85 433.89M170.59 438.39 170.68 438.63 170.84 439.00 170.99 439.37 171.16 439.75 171.32 440.12 171.50 440.50 171.68 440.88 171.87 441.27 172.07 441.65 172.27 442.05 172.47 442.44 172.53 442.56M175.46 447.95 175.52 448.06 175.72 448.45 175.93 448.84 176.12 449.23 176.31 449.62 176.50 450.00 176.68 450.38 176.85 450.76 177.01 451.13 177.17 451.51 177.32 451.88 177.42 452.11M179.22 456.70 179.34 456.97 179.51 457.33 179.68 457.69 179.86 458.04 180.05 458.40 180.25 458.75 180.46 459.10 180.67 459.46 180.89 459.81 181.12 460.16 181.35 460.51 181.48 460.70M184.84 465.18 184.96 465.34 185.22 465.67 185.48 466.01 185.74 466.34 186.00 466.67 186.25 467.00 186.50 467.33 186.74 467.68 186.98 468.03 187.22 468.38 187.45 468.75 187.55 468.90M190.45 473.10 190.54 473.20 190.80 473.47 191.08 473.72 191.36 473.95 191.64 474.15 191.94 474.34 192.25 474.50 192.57 474.64 192.91 474.77 193.26 474.88 193.62 474.98 193.99 475.06 194.38 475.13 194.45 475.14M199.11 474.93 199.19 474.91 199.57 474.81 199.93 474.69 200.28 474.56 200.62 474.42 200.94 474.27 201.25 474.10 201.54 473.92 201.82 473.71 202.09 473.48 202.35 473.24 202.59 472.97 202.83 472.69 202.94 472.56M205.40 468.27 205.49 468.09 205.69 467.71 205.89 467.34 206.09 466.97 206.29 466.61 206.50 466.25 206.71 465.90 206.92 465.54 207.13 465.17 207.34 464.81 207.55 464.44 207.65 464.26M210.32 459.28 210.41 459.10 210.61 458.72 210.81 458.35 211.01 457.98 211.20 457.61 211.40 457.25 211.59 456.89 211.78 456.52 211.95 456.15 212.13 455.77 212.29 455.39 212.39 455.17M214.44 450.77 214.50 450.68 214.70 450.36 214.92 450.06 215.14 449.77 215.38 449.50 215.63 449.24 215.90 449.00 216.18 448.77 216.47 448.55 216.78 448.34 217.10 448.14 217.42 447.94 217.76 447.76 217.81 447.73M222.22 446.26 222.25 446.26 222.64 446.19 223.02 446.14 223.40 446.09 223.77 446.05 224.14 446.02 224.50 446.00 224.86 445.99 225.22 445.99 225.58 446.00 225.94 446.02 226.31 446.05 226.67 446.09 226.79 446.11M231.02 447.27 231.36 447.41 231.71 447.57 232.06 447.73 232.41 447.90 232.76 448.07 233.10 448.25 233.44 448.44 233.79 448.64 234.13 448.85 234.47 449.07 234.82 449.30 235.05 449.47M239.30 453.10 239.43 453.23 239.74 453.54 240.04 453.84 240.33 454.15 240.62 454.45 240.90 454.75 241.18 455.05 241.44 455.36 241.71 455.66 241.96 455.98 242.22 456.29 242.38 456.51M245.24 460.68 245.39 460.91 245.61 461.25 245.83 461.59 246.05 461.93 246.28 462.26 246.50 462.60 246.73 462.94 246.95 463.27 247.18 463.61 247.40 463.95 247.62 464.29 247.77 464.52M250.56 468.93 250.69 469.14 250.90 469.49 251.12 469.85 251.33 470.20 251.54 470.55 251.75 470.90 251.96 471.25 252.17 471.61 252.37 471.97 252.58 472.32 252.78 472.68 252.90 472.89M255.44 477.52 255.57 477.75 255.77 478.10 255.97 478.46 256.18 478.81 256.39 479.15 256.60 479.50 256.81 479.85 257.01 480.20 257.22 480.57 257.41 480.94 257.61 481.31 257.72 481.51M260.23 485.83 260.30 485.93 260.55 486.22 260.80 486.49 261.06 486.75 261.33 486.99 261.61 487.20 261.90 487.40 262.20 487.57 262.52 487.73 262.85 487.86 263.19 487.98 263.53 488.07 263.89 488.16 264.05 488.19M268.60 488.37 268.96 488.37 269.36 488.37 269.75 488.37 270.14 488.37 270.52 488.38 270.90 488.40 271.28 488.43 271.66 488.46 272.05 488.50 272.43 488.55 272.83 488.60 273.19 488.65M277.67 489.01 277.86 489.00 278.22 488.96 278.57 488.91 278.92 488.84 279.26 488.75 279.58 488.63 279.90 488.50 280.21 488.34 280.51 488.17 280.80 487.97 281.09 487.75 281.37 487.52 281.64 487.27 281.75 487.15M284.64 483.32 284.78 483.10 285.00 482.76 285.23 482.41 285.45 482.07 285.67 481.73 285.90 481.40 286.12 481.07 286.35 480.74 286.57 480.40 286.78 480.06 287.00 479.71 287.15 479.47M289.71 474.80 289.81 474.62 290.00 474.25 290.19 473.88 290.37 473.50 290.56 473.13 290.75 472.75 290.93 472.38 291.11 472.03 291.28 471.68 291.44 471.35 291.59 471.02 291.75 470.70 291.76 470.68M294.01 465.52 294.20 465.06 294.42 464.54 294.65 463.98 294.90 463.40 295.16 462.77 295.45 462.09 295.75 461.37 295.79 461.28M298.06 455.79 298.21 455.43 298.59 454.51 298.97 453.58 299.35 452.66 299.73 451.74 299.81 451.54M302.05 446.04 302.11 445.87 302.40 445.17 302.66 444.51 302.90 443.90 303.12 443.34 303.32 442.82 303.50 442.33 303.67 441.87 303.71 441.75M305.03 437.73 305.04 437.71 305.14 437.43 305.24 437.16 305.35 436.87 305.47 436.58 305.60 436.27 305.74 435.94 305.90 435.60 306.07 435.25 306.24 434.89 306.41 434.54 306.59 434.18 306.78 433.82 306.92 433.54M309.54 428.96 309.66 428.77 309.87 428.42 310.09 428.06 310.31 427.71 310.53 427.35 310.75 427.00 310.97 426.65 311.19 426.29 311.40 425.92 311.62 425.55 311.84 425.18 311.93 425.03M314.85 420.45 315.07 420.18 315.32 419.87 315.58 419.57 315.85 419.28 316.12 419.01 316.40 418.75 316.69 418.50 316.99 418.26 317.30 418.03 317.62 417.81 317.95 417.59 318.26 417.40M322.08 415.62 322.16 415.60 322.49 415.47 322.81 415.36 323.12 415.24 323.43 415.14 323.71 415.04 323.99 414.94 324.25 414.85 324.50 414.77 324.73 414.69 324.95 414.63 325.16 414.57 325.36 414.52 325.55 414.48 325.73 414.44 325.90 414.41 326.07 414.39 326.23 414.37 326.39 414.36 326.49 414.36M331.55 414.75 331.56 414.75 331.78 414.81 332.00 414.88 332.22 414.96 332.44 415.05 332.67 415.16 332.90 415.28 333.13 415.42 333.36 415.58 333.60 415.75 333.84 415.94 334.09 416.15 334.34 416.38 334.60 416.62 334.87 416.88 335.14 417.16 335.29 417.31M338.60 421.36 338.70 421.51 338.96 421.86 339.20 422.21 339.44 422.56 339.68 422.91 339.90 423.25 340.11 423.59 340.32 423.93 340.52 424.27 340.71 424.62 340.90 424.97 341.04 425.24M343.12 429.82 343.22 430.05 343.39 430.42 343.56 430.79 343.74 431.16 343.92 431.53 344.10 431.90 344.29 432.27 344.48 432.65 344.66 433.02 344.85 433.40 345.04 433.79 345.13 433.96M347.73 439.02 347.82 439.17 348.03 439.55 348.25 439.92 348.46 440.28 348.68 440.64 348.90 441.00 349.12 441.35 349.35 441.70 349.59 442.05 349.82 442.39 350.06 442.73 350.19 442.90M353.38 447.05 353.55 447.28 353.80 447.60 354.04 447.92 354.28 448.25 354.52 448.57 354.75 448.90 354.98 449.23 355.20 449.56 355.42 449.89 355.64 450.22 355.86 450.56 356.02 450.82M358.62 454.91 358.82 455.19 359.05 455.51 359.28 455.82 359.51 456.13 359.75 456.44 360.00 456.75 360.25 457.05 360.51 457.35 360.77 457.64 361.04 457.93 361.32 458.22 361.54 458.46M365.12 461.88 365.34 462.09 365.63 462.37 365.92 462.65 366.20 462.93 366.48 463.21 366.75 463.50 367.02 463.79 367.29 464.09 367.55 464.39 367.81 464.70 368.07 465.01 368.25 465.24M371.40 469.06 371.66 469.33 371.93 469.60 372.22 469.87 372.50 470.12 372.80 470.37 373.10 470.60 373.41 470.83 373.73 471.07 374.06 471.31 374.39 471.55 374.73 471.79 374.96 471.95M379.13 474.20 379.39 474.27 379.74 474.36 380.09 474.42 380.43 474.45 380.76 474.46 381.08 474.45 381.40 474.40 381.71 474.32 382.01 474.20 382.31 474.05 382.60 473.87 382.89 473.66 383.17 473.43 383.36 473.25M386.56 469.30 386.68 469.15 386.96 468.81 387.24 468.48 387.52 468.17 387.81 467.88 388.10 467.60 388.40 467.33 388.70 467.07 389.00 466.81 389.30 466.54 389.61 466.28 389.84 466.09M393.76 462.98 394.02 462.78 394.34 462.54 394.66 462.31 394.97 462.07 395.29 461.83 395.60 461.60 395.91 461.37 396.23 461.16 396.55 460.95 396.87 460.75 397.19 460.56 397.51 460.38 397.54 460.36M401.45 457.99 401.64 457.84 401.94 457.59 402.24 457.32 402.53 457.03 402.82 456.73 403.10 456.40 403.38 456.05 403.65 455.69 403.91 455.30 404.17 454.89 404.41 454.51M406.82 449.75 406.85 449.70 407.09 449.20 407.32 448.71 407.56 448.22 407.79 447.74 408.03 447.27 408.27 446.81 408.51 446.36 408.75 445.92 408.91 445.65M411.88 441.22 412.12 440.89 412.36 440.54 412.61 440.19 412.86 439.84 413.11 439.47 413.36 439.09 413.62 438.70 413.89 438.30 414.16 437.88 414.43 437.44 414.45 437.41M417.07 432.76 417.22 432.47 417.56 431.83 417.91 431.18 418.25 430.51 418.60 429.85 418.95 429.18 419.21 428.69M421.74 423.98 421.99 423.53 422.30 422.99 422.61 422.48 422.90 422.00 423.19 421.54 423.47 421.11 423.74 420.70 424.01 420.30 424.17 420.08M427.47 415.90 427.68 415.65 427.92 415.36 428.16 415.06 428.41 414.75 428.65 414.43 428.90 414.10 429.15 413.76 429.40 413.42 429.65 413.08 429.90 412.73 430.14 412.39 430.25 412.24M433.48 407.71 433.63 407.52 433.88 407.19 434.13 406.86 434.39 406.54 434.64 406.22 434.90 405.90 435.16 405.59 435.41 405.28 435.67 404.97 435.92 404.67 436.17 404.36 436.37 404.13M439.55 400.65 439.82 400.39 440.10 400.12 440.38 399.86 440.67 399.61 440.96 399.35 441.25 399.10 441.55 398.85 441.85 398.60 442.15 398.36 442.46 398.11 442.77 397.87 443.04 397.66M447.06 394.97 447.38 394.79 447.73 394.60 448.07 394.42 448.41 394.24 448.76 394.07 449.10 393.90 449.45 393.74 449.79 393.59 450.15 393.45 450.50 393.31 450.86 393.18 451.21 393.06 451.24 393.05M455.58 391.86 455.60 391.86 455.97 391.76 456.33 391.67 456.70 391.57 457.07 391.47 457.43 391.36 457.80 391.25 458.16 391.14 458.53 391.02 458.90 390.90 459.26 390.77 459.63 390.65 459.98 390.53M464.37 389.06 464.41 389.05 464.77 388.94 465.14 388.84 465.51 388.75 465.87 388.66 466.24 388.58 466.60 388.50 466.96 388.43 467.33 388.38 467.69 388.33 468.05 388.29 468.42 388.26 468.78 388.23 468.88 388.23M472.98 388.08 473.12 388.07 473.48 388.04 473.83 388.00 474.19 387.95 474.54 387.90 474.90 387.83 475.25 387.75 475.60 387.66 475.95 387.57 476.31 387.47 476.66 387.37 477.01 387.27 477.36 387.16 477.46 387.12M481.48 385.50 481.50 385.48 481.84 385.32 482.17 385.14 482.51 384.96 482.84 384.78 483.17 384.59 483.50 384.40 483.83 384.20 484.16 384.00 484.48 383.79 484.81 383.57 485.14 383.35 485.43 383.15M489.34 379.99 489.55 379.79 489.85 379.52 490.14 379.24 490.43 378.96 490.72 378.68 491.00 378.40 491.28 378.12 491.56 377.83 491.83 377.54 492.10 377.25 492.37 376.96 492.58 376.73M495.72 372.81 495.87 372.59 496.10 372.25 496.33 371.92 496.56 371.58 496.78 371.24 497.00 370.90 497.22 370.55 497.42 370.20 497.63 369.84 497.83 369.48 498.02 369.11 498.13 368.90M500.45 363.95 500.54 363.77 500.72 363.39 500.91 363.01 501.10 362.64 501.30 362.27 501.50 361.90 501.71 361.54 501.91 361.17 502.12 360.81 502.33 360.44 502.54 360.08 502.65 359.91M505.51 355.31 505.65 355.11 505.88 354.76 506.11 354.42 506.34 354.08 506.57 353.74 506.80 353.40 507.03 353.06 507.27 352.73 507.50 352.40 507.74 352.07 507.98 351.75 508.14 351.53M511.21 347.55 511.40 347.32 511.65 347.01 511.90 346.69 512.15 346.38 512.40 346.07 512.65 345.75 512.90 345.43 513.15 345.11 513.40 344.79 513.65 344.47 513.90 344.15 514.07 343.94M517.31 339.91 517.51 339.69 517.78 339.39 518.06 339.10 518.33 338.81 518.62 338.53 518.90 338.25 519.19 337.98 519.48 337.71 519.77 337.44 520.06 337.18 520.36 336.93 520.61 336.71M524.46 333.83 524.74 333.64 525.07 333.43 525.40 333.22 525.73 333.01 526.07 332.80 526.40 332.60 526.74 332.39 527.08 332.18 527.43 331.96 527.78 331.73 528.13 331.50 528.34 331.37M532.76 328.96 532.87 328.91 533.24 328.79 533.59 328.69 533.95 328.61 534.30 328.55 534.65 328.51 535.00 328.50 535.35 328.51 535.69 328.54 536.04 328.59 536.39 328.66 536.74 328.75 537.10 328.85 537.25 328.90M541.16 331.09 541.47 331.33 541.77 331.58 542.06 331.83 542.35 332.09 542.63 332.34 542.90 332.60 543.16 332.87 543.41 333.15 543.64 333.45 543.87 333.76 544.08 334.08 544.29 334.42 544.29 334.42M546.56 338.94 546.69 339.20 546.89 339.56 547.09 339.91 547.30 340.25 547.52 340.58 547.75 340.90 547.99 341.21 548.22 341.52 548.47 341.82 548.71 342.12 548.96 342.41 549.20 342.69M552.43 346.02 552.70 346.28 552.98 346.54 553.26 346.81 553.54 347.07 553.82 347.34 554.10 347.60 554.38 347.86 554.67 348.12 554.95 348.38 555.24 348.64 555.53 348.89 555.81 349.14M559.47 352.15 559.72 352.35 560.03 352.60 560.33 352.85 560.64 353.10 560.94 353.35 561.25 353.60 561.55 353.86 561.86 354.11 562.16 354.38 562.47 354.64 562.77 354.91 562.99 355.11M566.86 358.44 567.10 358.62 567.42 358.86 567.75 359.10 568.08 359.32 568.41 359.54 568.75 359.75 569.09 359.95 569.43 360.15 569.78 360.34 570.13 360.53 570.48 360.71 570.77 360.85M575.33 362.74 575.61 362.84 575.98 362.98 576.36 363.11 576.74 363.24 577.12 363.37 577.50 363.50 577.88 363.63 578.27 363.76 578.67 363.88 579.06 364.00 579.46 364.12 579.70 364.19M584.76 365.48 585.14 365.57 585.52 365.66 585.90 365.74 586.28 365.83 586.64 365.92 587.00 366.00 587.35 366.08 587.69 366.16 588.02 366.23 588.35 366.30 588.67 366.37 588.98 366.44 589.25 366.49M592.24 367.06 592.26 367.06 592.56 367.12 592.87 367.18 593.18 367.24 593.50 367.30 593.83 367.36 594.16 367.43 594.50 367.50 594.85 367.58 595.21 367.66 595.57 367.76 595.94 367.87 596.31 367.98 596.69 368.10 596.72 368.10M601.54 369.39 601.76 369.42 602.14 369.45 602.51 369.47 602.88 369.46 603.24 369.44 603.60 369.40 603.95 369.34 604.30 369.25 604.64 369.15 604.98 369.03 605.32 368.89 605.65 368.74 605.99 368.57 605.99 368.57M610.12 365.77 610.14 365.76 610.46 365.53 610.77 365.32 611.09 365.10 611.40 364.90 611.72 364.70 612.03 364.50 612.35 364.29 612.66 364.09 612.98 363.89 613.30 363.68 613.61 363.47 613.93 363.26 613.96 363.24M618.03 360.34 618.15 360.24 618.43 360.02 618.70 359.80 618.97 359.57 619.25 359.33 619.53 359.09 619.81 358.83 620.09 358.57 620.37 358.30 620.65 358.03 620.93 357.76 621.21 357.49 621.44 357.25" fill="none" stroke="#f23b3b" stroke-width="2.1"/>
<line x1="171" y1="430.5" x2="716.5" y2="190.3" stroke="#000" stroke-width="1.15"/>
<line x1="270" y1="387.66" x2="615" y2="235.74" stroke="#000" stroke-width="1.1"/>
<line x1="228.5" y1="555.2" x2="671.5" y2="359.5" stroke="#000" stroke-width="1.15"/>
<line x1="1" y1="310" x2="756" y2="310" stroke="#000" stroke-width="2" stroke-dasharray="21 9"/>
<polygon points="42.5,329.5 48.5,334.5 44.5,334.5 44.5,341.5 40.5,341.5 40.5,334.5 36.5,334.5" fill="url(#ga)" stroke="#0c920c" stroke-width="1"/>
<polygon points="501.5,301.5 507.0,296.5 503.5,296.5 503.5,289.5 499.5,289.5 499.5,296.5 496.0,296.5" fill="url(#ra)" stroke="#c01818" stroke-width="1"/>
<polygon points="514.5,304.5 520.0,299.5 516.5,299.5 516.5,292.5 512.5,292.5 512.5,299.5 509.0,299.5" fill="url(#ra)" stroke="#c01818" stroke-width="1"/>
<polygon points="614.5,332.5 620.5,337.5 616.5,337.5 616.5,345.5 612.5,345.5 612.5,337.5 608.5,337.5" fill="url(#ga)" stroke="#0c920c" stroke-width="1"/>
<polygon points="614.5,338.5 620.5,343.5 616.5,343.5 616.5,350.5 612.5,350.5 612.5,343.5 608.5,343.5" fill="url(#ga)" stroke="#0c920c" stroke-width="1"/>
<text x="1.40" y="307.70" font-size="10.0" fill="#000" textLength="37.9" lengthAdjust="spacingAndGlyphs" stroke="#000" stroke-width="0.18">1,84106</text>
<rect x="91.5" y="41.5" width="204.5" height="38" rx="3" ry="3" fill="#fff" stroke="#3cb9fc" stroke-width="2"/>
<text transform="translate(96.60,57.20) scale(1.0,1)" x="0" y="0" font-size="9.7" fill="#000" textLength="150.00" lengthAdjust="spacing" stroke="#000" stroke-width="0.18">PROGETTO DIVENTA TRADER</text>
<text transform="translate(96.60,71.00) scale(1.0,1)" x="0" y="0" font-size="9.7" fill="#000" textLength="194.00" lengthAdjust="spacing" stroke="#000" stroke-width="0.18">SCRIVIMI A INFOSCATTA@GMAIL.COM</text>
<text x="331.40" y="97.80" font-size="14.4" fill="#000" textLength="266.3" lengthAdjust="spacingAndGlyphs" stroke="none">ROMPE LA RESISTENZA STATIC A A1,84</text>
<text x="331.40" y="116.70" font-size="14.4" fill="#000" textLength="284.9" lengthAdjust="spacingAndGlyphs" stroke="none">E HA SPAZIO PER SALIRE, OGNI PULLBACK</text>
<text x="331.40" y="135.70" font-size="14.4" fill="#000" textLength="175.2" lengthAdjust="spacingAndGlyphs" stroke="none">VA VISOT IN OTTICA LONG</text>
<circle cx="7.05" cy="573.85" r="3.55" fill="none" stroke="#000" stroke-width="1.15"/>
<path d="M8.5 572.65A1.8 1.8 0 1 0 8.5 575.05" fill="none" stroke="#000" stroke-width="0.95"/>
<text x="13.40" y="577.70" font-size="11" fill="#000" textLength="81.8" lengthAdjust="spacingAndGlyphs" stroke="#000" stroke-width="0.18">ProRealTime.com</text>
<rect x="0" y="0" width="800" height="1" fill="#a8a8a8"/>
<rect x="0" y="599" width="800" height="1" fill="#a8a8a8"/>
<rect x="0" y="0" width="1" height="600" fill="#a8a8a8"/>
<rect x="799" y="0" width="1" height="600" fill="#a8a8a8"/>
<rect x="1" y="1" width="798" height="19" fill="url(#tb)"/>
<rect x="1" y="20" width="798" height="1" fill="#b0b0b0"/>
<rect x="3.5" y="10.5" width="6" height="6" fill="#f07c7c" stroke="#b42222" stroke-width="1"/>
<rect x="6" y="8" width="1" height="2" fill="#b42222"/><rect x="6" y="17" width="1" height="2" fill="#b42222"/>
<rect x="11.5" y="6.5" width="6" height="9" fill="#64e064" stroke="#109a10" stroke-width="1"/>
<rect x="14" y="3" width="1" height="3" fill="#109a10"/><rect x="14" y="16" width="1" height="3" fill="#109a10"/>
<text x="24.00" y="15.20" font-size="11.2" font-weight="bold" fill="#000" textLength="73.6" lengthAdjust="spacingAndGlyphs">Spot GBP/AUD</text>
<text x="107.40" y="15.20" font-size="11.2" font-weight="bold" fill="#000" textLength="59.6" lengthAdjust="spacingAndGlyphs">Giornaliero</text>
<text x="177.60" y="15.20" font-size="11.2" font-weight="bold" fill="#000" textLength="79.0" lengthAdjust="spacingAndGlyphs">1,8608 (+1,18%)</text>
<text x="266.20" y="15.20" font-size="11.2" font-weight="bold" fill="#000" textLength="52.3" lengthAdjust="spacingAndGlyphs">5-ott-2018</text>
<text x="667.60" y="15.40" font-size="11.4" font-weight="bold" fill="#000" textLength="128.4" lengthAdjust="spacingAndGlyphs">www.ProRealTime.com</text>
<rect x="1" y="21" width="38" height="13" fill="url(#lg)"/>
<rect x="38" y="21" width="1" height="13" fill="#c4c4c4"/><rect x="1" y="33" width="38" height="1" fill="#c4c4c4"/>
<rect x="39" y="21" width="124" height="13" fill="url(#lg)"/>
<rect x="162" y="21" width="1" height="13" fill="#c0c0c0"/><rect x="39" y="33" width="124" height="1" fill="#c4c4c4"/>
<rect x="163" y="21" width="128" height="13" fill="url(#lg)"/>
<rect x="290" y="21" width="1" height="13" fill="#c4c4c4"/><rect x="163" y="33" width="128" height="1" fill="#c4c4c4"/>
<text x="2.40" y="30.60" font-size="10.6" fill="#000" textLength="34.0" lengthAdjust="spacingAndGlyphs" stroke="#000" stroke-width="0.18">Prezzo</text>
<text x="41.60" y="30.60" font-size="10.6" fill="#ff3030" textLength="117.8" lengthAdjust="spacingAndGlyphs" stroke="#ff3030" stroke-width="0.18">Media Mobile (Simple 50)</text>
<text x="164.20" y="30.60" font-size="10.6" fill="#6a98f0" textLength="124.0" lengthAdjust="spacingAndGlyphs" stroke="#6a98f0" stroke-width="0.18">Media Mobile (Simple 200)</text>
<rect x="756" y="21" width="1" height="560" fill="#b4b4b4"/>
<rect x="1" y="580" width="756" height="1" fill="#b4b4b4"/>
<rect x="757" y="24" width="4" height="1" fill="#9a9a9a"/>
<text x="762.80" y="30.50" font-size="10.4" fill="#000" textLength="20.2" lengthAdjust="spacingAndGlyphs" stroke="#000" stroke-width="0.18">2,18</text>
<rect x="757" y="41" width="4" height="1" fill="#9a9a9a"/>
<text x="762.80" y="44.80" font-size="10.4" fill="#000" textLength="20.2" lengthAdjust="spacingAndGlyphs" stroke="#000" stroke-width="0.18">2,16</text>
<rect x="757" y="58" width="4" height="1" fill="#9a9a9a"/>
<text x="762.80" y="61.80" font-size="10.4" fill="#000" textLength="20.2" lengthAdjust="spacingAndGlyphs" stroke="#000" stroke-width="0.18">2,14</text>
<rect x="757" y="75" width="4" height="1" fill="#9a9a9a"/>
<text x="762.80" y="78.80" font-size="10.4" fill="#000" textLength="20.2" lengthAdjust="spacingAndGlyphs" stroke="#000" stroke-width="0.18">2,12</text>
<rect x="757" y="92" width="4" height="1" fill="#9a9a9a"/>
<text x="762.60" y="95.70" font-size="12.0" font-weight="bold" fill="#000" textLength="16.7" lengthAdjust="spacingAndGlyphs">2,1</text>
<rect x="757" y="109" width="4" height="1" fill="#9a9a9a"/>
<text x="762.80" y="112.80" font-size="10.4" fill="#000" textLength="20.2" lengthAdjust="spacingAndGlyphs" stroke="#000" stroke-width="0.18">2,08</text>
<rect x="757" y="125" width="4" height="1" fill="#9a9a9a"/>
<text x="762.80" y="128.80" font-size="10.4" fill="#000" textLength="20.2" lengthAdjust="spacingAndGlyphs" stroke="#000" stroke-width="0.18">2,06</text>
<rect x="757" y="142" width="4" height="1" fill="#9a9a9a"/>
<text x="762.80" y="145.80" font-size="10.4" fill="#000" textLength="20.2" lengthAdjust="spacingAndGlyphs" stroke="#000" stroke-width="0.18">2,04</text>
<rect x="757" y="159" width="4" height="1" fill="#9a9a9a"/>
<text x="762.80" y="162.80" font-size="10.4" fill="#000" textLength="20.2" lengthAdjust="spacingAndGlyphs" stroke="#000" stroke-width="0.18">2,02</text>
<rect x="757" y="176" width="4" height="1" fill="#9a9a9a"/>
<text x="762.60" y="179.70" font-size="12.0" font-weight="bold" fill="#000" textLength="6.7" lengthAdjust="spacingAndGlyphs">2</text>
<rect x="757" y="193" width="4" height="1" fill="#9a9a9a"/>
<text x="762.80" y="196.80" font-size="10.4" fill="#000" textLength="20.2" lengthAdjust="spacingAndGlyphs" stroke="#000" stroke-width="0.18">1,98</text>
<rect x="757" y="210" width="4" height="1" fill="#9a9a9a"/>
<text x="762.80" y="213.80" font-size="10.4" fill="#000" textLength="20.2" lengthAdjust="spacingAndGlyphs" stroke="#000" stroke-width="0.18">1,96</text>
<rect x="757" y="226" width="4" height="1" fill="#9a9a9a"/>
<text x="762.80" y="229.80" font-size="10.4" fill="#000" textLength="20.2" lengthAdjust="spacingAndGlyphs" stroke="#000" stroke-width="0.18">1,94</text>
<rect x="757" y="243" width="4" height="1" fill="#9a9a9a"/>
<text x="762.80" y="246.80" font-size="10.4" fill="#000" textLength="20.2" lengthAdjust="spacingAndGlyphs" stroke="#000" stroke-width="0.18">1,92</text>
<rect x="757" y="260" width="4" height="1" fill="#9a9a9a"/>
<text x="762.60" y="263.70" font-size="12.0" font-weight="bold" fill="#000" textLength="16.7" lengthAdjust="spacingAndGlyphs">1,9</text>
<rect x="757" y="277" width="4" height="1" fill="#9a9a9a"/>
<text x="762.80" y="280.80" font-size="10.4" fill="#000" textLength="20.2" lengthAdjust="spacingAndGlyphs" stroke="#000" stroke-width="0.18">1,88</text>
<rect x="757" y="294" width="4" height="1" fill="#9a9a9a"/>
<text x="762.80" y="297.80" font-size="10.4" fill="#000" textLength="20.2" lengthAdjust="spacingAndGlyphs" stroke="#000" stroke-width="0.18">1,86</text>
<rect x="757" y="311" width="4" height="1" fill="#9a9a9a"/>
<text x="762.80" y="314.80" font-size="10.4" fill="#000" textLength="20.2" lengthAdjust="spacingAndGlyphs" stroke="#000" stroke-width="0.18">1,84</text>
<rect x="757" y="327" width="4" height="1" fill="#9a9a9a"/>
<text x="762.80" y="330.80" font-size="10.4" fill="#000" textLength="20.2" lengthAdjust="spacingAndGlyphs" stroke="#000" stroke-width="0.18">1,82</text>
<rect x="757" y="344" width="4" height="1" fill="#9a9a9a"/>
<text x="762.60" y="347.70" font-size="12.0" font-weight="bold" fill="#000" textLength="16.7" lengthAdjust="spacingAndGlyphs">1,8</text>
<rect x="757" y="361" width="4" height="1" fill="#9a9a9a"/>
<text x="762.80" y="364.80" font-size="10.4" fill="#000" textLength="20.2" lengthAdjust="spacingAndGlyphs" stroke="#000" stroke-width="0.18">1,78</text>
<rect x="757" y="378" width="4" height="1" fill="#9a9a9a"/>
<text x="762.80" y="381.80" font-size="10.4" fill="#000" textLength="20.2" lengthAdjust="spacingAndGlyphs" stroke="#000" stroke-width="0.18">1,76</text>
<rect x="757" y="395" width="4" height="1" fill="#9a9a9a"/>
<text x="762.80" y="398.80" font-size="10.4" fill="#000" textLength="20.2" lengthAdjust="spacingAndGlyphs" stroke="#000" stroke-width="0.18">1,74</text>
<rect x="757" y="412" width="4" height="1" fill="#9a9a9a"/>
<text x="762.80" y="415.80" font-size="10.4" fill="#000" textLength="20.2" lengthAdjust="spacingAndGlyphs" stroke="#000" stroke-width="0.18">1,72</text>
<rect x="757" y="428" width="4" height="1" fill="#9a9a9a"/>
<text x="762.60" y="431.70" font-size="12.0" font-weight="bold" fill="#000" textLength="16.7" lengthAdjust="spacingAndGlyphs">1,7</text>
<rect x="757" y="445" width="4" height="1" fill="#9a9a9a"/>
<text x="762.80" y="448.80" font-size="10.4" fill="#000" textLength="20.2" lengthAdjust="spacingAndGlyphs" stroke="#000" stroke-width="0.18">1,68</text>
<rect x="757" y="462" width="4" height="1" fill="#9a9a9a"/>
<text x="762.80" y="465.80" font-size="10.4" fill="#000" textLength="20.2" lengthAdjust="spacingAndGlyphs" stroke="#000" stroke-width="0.18">1,66</text>
<rect x="757" y="479" width="4" height="1" fill="#9a9a9a"/>
<text x="762.80" y="482.80" font-size="10.4" fill="#000" textLength="20.2" lengthAdjust="spacingAndGlyphs" stroke="#000" stroke-width="0.18">1,64</text>
<rect x="757" y="496" width="4" height="1" fill="#9a9a9a"/>
<text x="762.80" y="499.80" font-size="10.4" fill="#000" textLength="20.2" lengthAdjust="spacingAndGlyphs" stroke="#000" stroke-width="0.18">1,62</text>
<rect x="757" y="513" width="4" height="1" fill="#9a9a9a"/>
<text x="762.60" y="516.70" font-size="12.0" font-weight="bold" fill="#000" textLength="16.7" lengthAdjust="spacingAndGlyphs">1,6</text>
<rect x="757" y="529" width="4" height="1" fill="#9a9a9a"/>
<text x="762.80" y="532.80" font-size="10.4" fill="#000" textLength="20.2" lengthAdjust="spacingAndGlyphs" stroke="#000" stroke-width="0.18">1,58</text>
<rect x="757" y="546" width="4" height="1" fill="#9a9a9a"/>
<text x="762.80" y="549.80" font-size="10.4" fill="#000" textLength="20.2" lengthAdjust="spacingAndGlyphs" stroke="#000" stroke-width="0.18">1,56</text>
<rect x="757" y="563" width="4" height="1" fill="#9a9a9a"/>
<text x="762.80" y="566.80" font-size="10.4" fill="#000" textLength="20.2" lengthAdjust="spacingAndGlyphs" stroke="#000" stroke-width="0.18">1,54</text>
<rect x="757" y="354" width="4" height="1" fill="#ff3030"/>
<rect x="757" y="357" width="4" height="1" fill="#5d8ff2"/>
<rect x="761.5" y="340.5" width="36" height="15" fill="url(#lg)" stroke="#a8a8a8" stroke-width="1"/>
<rect x="761.5" y="355.5" width="36" height="15" fill="url(#lg)" stroke="#a8a8a8" stroke-width="1"/>
<text x="763.00" y="351.80" font-size="10.8" fill="#ff3030" textLength="32.0" lengthAdjust="spacingAndGlyphs" stroke="#ff3030" stroke-width="0.18">1,7878</text>
<text x="763.00" y="367.00" font-size="10.8" fill="#5d8ff2" textLength="32.0" lengthAdjust="spacingAndGlyphs" stroke="#5d8ff2" stroke-width="0.18">1,7850</text>
<rect x="16" y="581" width="1" height="4" fill="#9a9a9a"/>
<text x="15.35" y="596.90" font-size="11.6" text-anchor="middle" fill="#000" textLength="18.0" lengthAdjust="spacingAndGlyphs" stroke="#000" stroke-width="0.18">mar</text>
<rect x="55" y="581" width="1" height="4" fill="#9a9a9a"/>
<text x="54.50" y="596.90" font-size="11.6" text-anchor="middle" fill="#000" textLength="20.3" lengthAdjust="spacingAndGlyphs" stroke="#000" stroke-width="0.18">mag</text>
<rect x="95" y="581" width="1" height="4" fill="#9a9a9a"/>
<text x="94.60" y="596.90" font-size="11.6" text-anchor="middle" fill="#000" textLength="13.9" lengthAdjust="spacingAndGlyphs" stroke="#000" stroke-width="0.18">lug</text>
<rect x="135" y="581" width="1" height="4" fill="#9a9a9a"/>
<text x="134.60" y="596.90" font-size="11.6" text-anchor="middle" fill="#000" textLength="13.9" lengthAdjust="spacingAndGlyphs" stroke="#000" stroke-width="0.18">set</text>
<rect x="173" y="581" width="1" height="4" fill="#9a9a9a"/>
<text x="172.40" y="596.90" font-size="11.6" text-anchor="middle" fill="#000" textLength="16.8" lengthAdjust="spacingAndGlyphs" stroke="#000" stroke-width="0.18">nov</text>
<rect x="213" y="581" width="1" height="4" fill="#9a9a9a"/>
<text x="212.80" y="596.90" font-size="12.2" font-weight="bold" text-anchor="middle" fill="#000" textLength="27.0" lengthAdjust="spacingAndGlyphs">2017</text>
<rect x="251" y="581" width="1" height="4" fill="#9a9a9a"/>
<text x="250.60" y="596.90" font-size="11.6" text-anchor="middle" fill="#000" textLength="18.0" lengthAdjust="spacingAndGlyphs" stroke="#000" stroke-width="0.18">mar</text>
<rect x="289" y="581" width="1" height="4" fill="#9a9a9a"/>
<text x="288.35" y="596.90" font-size="11.6" text-anchor="middle" fill="#000" textLength="20.3" lengthAdjust="spacingAndGlyphs" stroke="#000" stroke-width="0.18">mag</text>
<rect x="330" y="581" width="1" height="4" fill="#9a9a9a"/>
<text x="329.60" y="596.90" font-size="11.6" text-anchor="middle" fill="#000" textLength="13.9" lengthAdjust="spacingAndGlyphs" stroke="#000" stroke-width="0.18">lug</text>
<rect x="369" y="581" width="1" height="4" fill="#9a9a9a"/>
<text x="368.60" y="596.90" font-size="11.6" text-anchor="middle" fill="#000" textLength="13.9" lengthAdjust="spacingAndGlyphs" stroke="#000" stroke-width="0.18">set</text>
<rect x="408" y="581" width="1" height="4" fill="#9a9a9a"/>
<text x="407.60" y="596.90" font-size="11.6" text-anchor="middle" fill="#000" textLength="16.8" lengthAdjust="spacingAndGlyphs" stroke="#000" stroke-width="0.18">nov</text>
<rect x="446" y="581" width="1" height="4" fill="#9a9a9a"/>
<text x="445.70" y="596.90" font-size="12.2" font-weight="bold" text-anchor="middle" fill="#000" textLength="27.0" lengthAdjust="spacingAndGlyphs">2018</text>
<rect x="484" y="581" width="1" height="4" fill="#9a9a9a"/>
<text x="483.60" y="596.90" font-size="11.6" text-anchor="middle" fill="#000" textLength="18.0" lengthAdjust="spacingAndGlyphs" stroke="#000" stroke-width="0.18">mar</text>
<rect x="523" y="581" width="1" height="4" fill="#9a9a9a"/>
<text x="522.50" y="596.90" font-size="11.6" text-anchor="middle" fill="#000" textLength="20.3" lengthAdjust="spacingAndGlyphs" stroke="#000" stroke-width="0.18">mag</text>
<rect x="562" y="581" width="1" height="4" fill="#9a9a9a"/>
<text x="561.60" y="596.90" font-size="11.6" text-anchor="middle" fill="#000" textLength="13.9" lengthAdjust="spacingAndGlyphs" stroke="#000" stroke-width="0.18">lug</text>
<rect x="603" y="581" width="1" height="4" fill="#9a9a9a"/>
<text x="602.40" y="596.90" font-size="11.6" text-anchor="middle" fill="#000" textLength="13.9" lengthAdjust="spacingAndGlyphs" stroke="#000" stroke-width="0.18">set</text>
<rect x="642" y="581" width="1" height="4" fill="#9a9a9a"/>
<text x="641.60" y="596.90" font-size="11.6" text-anchor="middle" fill="#000" textLength="16.8" lengthAdjust="spacingAndGlyphs" stroke="#000" stroke-width="0.18">nov</text>
<rect x="679" y="581" width="1" height="4" fill="#9a9a9a"/>
<text x="678.60" y="596.90" font-size="12.2" font-weight="bold" text-anchor="middle" fill="#000" textLength="27.0" lengthAdjust="spacingAndGlyphs">2019</text>
<rect x="718" y="581" width="1" height="4" fill="#9a9a9a"/>
<text x="717.50" y="596.90" font-size="11.6" text-anchor="middle" fill="#000" textLength="18.0" lengthAdjust="spacingAndGlyphs" stroke="#000" stroke-width="0.18">mar</text>
</svg>
</body></html>
